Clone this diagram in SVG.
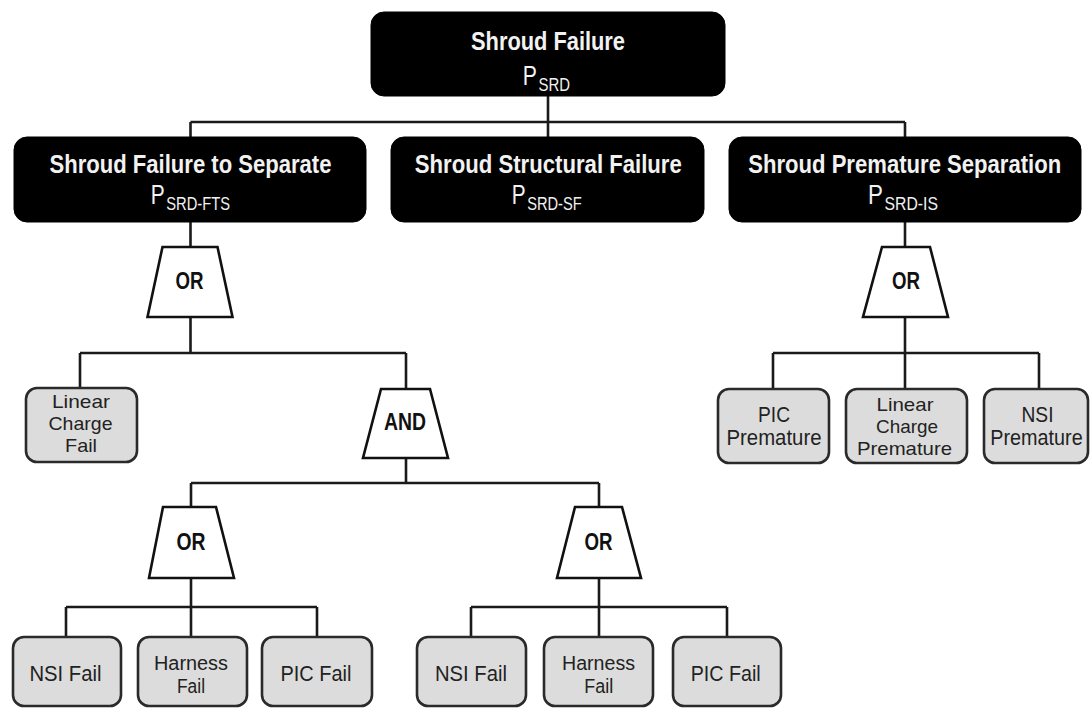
<svg xmlns="http://www.w3.org/2000/svg" width="1090" height="709" viewBox="0 0 1090 709">
<style>
.ev{fill:#000;stroke:#000;stroke-width:1}
.leaf{fill:#dcdcdc;stroke:#2a2a2a;stroke-width:2.6}
.gate{fill:#fff;stroke:#111;stroke-width:2.6;stroke-linejoin:miter}
.con{fill:none;stroke:#1a1a1a;stroke-width:2.6}
.t{font-family:"Liberation Sans Narrow","Liberation Sans",Arial,sans-serif;fill:#f2f2f2}
.tb{font-weight:bold;font-size:26px;text-anchor:middle}
.tp{font-size:27px}
.ts{font-size:19px}
.g{font-family:"Liberation Sans Narrow","Liberation Sans",Arial,sans-serif;font-weight:bold;font-size:23px;text-anchor:middle;fill:#111}
.l{font-family:"Liberation Sans Narrow","Liberation Sans",Arial,sans-serif;font-size:22px;text-anchor:middle;fill:#222}
.l3{font-size:19px}
.l2{font-size:20px}
</style>
<rect width="1090" height="709" fill="#fff"/>
<g id="connectors">
<path class="con" d="M548,96V137M190.5,122H905M190.5,122V137M905,122V137"/>
<path class="con" d="M190.5,222V247M190.5,317V353M80,353H406M80,353V388M406,353V389"/>
<path class="con" d="M406,458V483M191,483H599M191,483V507M599,483V507"/>
<path class="con" d="M191,578V607M66,607H317M66,607V637M191,607V637M317,607V637"/>
<path class="con" d="M599,578V607M471,607H727M471,607V637M599,607V637M727,607V637"/>
<path class="con" d="M905,222V247M905,317V353M773,353H1039M773,353V389M905,353V389M1039,353V389"/>
</g>
<g id="n-top">
<rect class="ev" x="371" y="12" width="354" height="84" rx="13"/>
<text class="t tb" x="548" y="50" font-size="27" textLength="154" lengthAdjust="spacingAndGlyphs">Shroud Failure</text>
<text class="t" x="522.7" y="85" textLength="47.3" lengthAdjust="spacingAndGlyphs"><tspan class="tp">P</tspan><tspan class="ts" font-size="20" dx="2" dy="6">SRD</tspan></text>
</g>
<g id="n-fts">
<rect class="ev" x="14" y="137" width="352" height="85" rx="13"/>
<text class="t tb" x="190.5" y="173" textLength="282" lengthAdjust="spacingAndGlyphs">Shroud Failure to Separate</text>
<text class="t" x="150.7" y="204" textLength="79.3" lengthAdjust="spacingAndGlyphs"><tspan class="tp">P</tspan><tspan class="ts" dx="2" dy="6">SRD-FTS</tspan></text>
</g>
<g id="n-sf">
<rect class="ev" x="391" y="137" width="313" height="85" rx="13"/>
<text class="t tb" x="548.3" y="173" textLength="267" lengthAdjust="spacingAndGlyphs">Shroud Structural Failure</text>
<text class="t" x="511.7" y="204" textLength="70" lengthAdjust="spacingAndGlyphs"><tspan class="tp">P</tspan><tspan class="ts" dx="2" dy="6">SRD-SF</tspan></text>
</g>
<g id="n-is">
<rect class="ev" x="729" y="137" width="352" height="85" rx="13"/>
<text class="t tb" transform="translate(904.7 173) scale(0.86 1)" x="0" y="0" textLength="364" lengthAdjust="spacingAndGlyphs">Shroud Premature Separation</text>
<text class="t" x="868" y="204" textLength="70" lengthAdjust="spacingAndGlyphs"><tspan class="tp">P</tspan><tspan class="ts" dx="2" dy="6">SRD-IS</tspan></text>
</g>
<g id="g-or1">
<polygon class="gate" points="162.5,247 217.5,247 232.5,317 147.5,317"/>
<text class="g" x="189.5" y="289" textLength="28" lengthAdjust="spacingAndGlyphs">OR</text>
</g>
<g id="g-and">
<polygon class="gate" points="381,389 430,389 448,458 363,458"/>
<text class="g" x="405" y="430" textLength="42" lengthAdjust="spacingAndGlyphs">AND</text>
</g>
<g id="g-or2">
<polygon class="gate" points="163,507 216,507 234,578 149,578"/>
<text class="g" x="191" y="550" textLength="29" lengthAdjust="spacingAndGlyphs">OR</text>
</g>
<g id="g-or3">
<polygon class="gate" points="575,507 622,507 641,578 557,578"/>
<text class="g" x="598.5" y="550" textLength="28" lengthAdjust="spacingAndGlyphs">OR</text>
</g>
<g id="g-or4">
<polygon class="gate" points="882,247 930,247 948,317 863,317"/>
<text class="g" x="906" y="289" textLength="28" lengthAdjust="spacingAndGlyphs">OR</text>
</g>
<g id="l-lcf">
<rect class="leaf" x="26" y="388" width="111" height="74" rx="11"/>
<text class="l l3" x="81" y="408" textLength="58" lengthAdjust="spacingAndGlyphs">Linear</text>
<text class="l l3" x="80.5" y="430" textLength="64" lengthAdjust="spacingAndGlyphs">Charge</text>
<text class="l l3" x="81" y="452" textLength="32" lengthAdjust="spacingAndGlyphs">Fail</text>
</g>
<g id="l-picp">
<rect class="leaf" x="718" y="389" width="111" height="74" rx="11"/>
<text class="l" x="774" y="422" textLength="32" lengthAdjust="spacingAndGlyphs">PIC</text>
<text class="l" x="774" y="445" textLength="95" lengthAdjust="spacingAndGlyphs">Premature</text>
</g>
<g id="l-lcp">
<rect class="leaf" x="846" y="389" width="121" height="74" rx="11"/>
<text class="l l3" x="905" y="411" textLength="57" lengthAdjust="spacingAndGlyphs">Linear</text>
<text class="l l3" x="907" y="432.5" textLength="62" lengthAdjust="spacingAndGlyphs">Charge</text>
<text class="l l3" x="904.5" y="455" textLength="95" lengthAdjust="spacingAndGlyphs">Premature</text>
</g>
<g id="l-nsip">
<rect class="leaf" x="984" y="389" width="104" height="74" rx="11"/>
<text class="l" x="1037.5" y="422" textLength="32" lengthAdjust="spacingAndGlyphs">NSI</text>
<text class="l" transform="translate(1036.5 445) scale(0.9 1)" x="0" y="0">Premature</text>
</g>
<g id="l-nsi1">
<rect class="leaf" x="13" y="637" width="108" height="69" rx="11"/>
<text class="l" x="65.5" y="681" textLength="72" lengthAdjust="spacingAndGlyphs">NSI Fail</text>
</g>
<g id="l-har1">
<rect class="leaf" x="138" y="637" width="109" height="69" rx="11"/>
<text class="l l2" x="191" y="669.5" textLength="74" lengthAdjust="spacingAndGlyphs">Harness</text>
<text class="l l2" x="191" y="692.5" textLength="28" lengthAdjust="spacingAndGlyphs">Fail</text>
</g>
<g id="l-pic1">
<rect class="leaf" x="262" y="637" width="110" height="69" rx="11"/>
<text class="l" x="316" y="681" textLength="71" lengthAdjust="spacingAndGlyphs">PIC Fail</text>
</g>
<g id="l-nsi2">
<rect class="leaf" x="417" y="637" width="109" height="69" rx="11"/>
<text class="l" x="471" y="681" textLength="72" lengthAdjust="spacingAndGlyphs">NSI Fail</text>
</g>
<g id="l-har2">
<rect class="leaf" x="544" y="637" width="109" height="69" rx="11"/>
<text class="l l2" x="598.5" y="669.5" textLength="73" lengthAdjust="spacingAndGlyphs">Harness</text>
<text class="l l2" x="598.7" y="692.5" textLength="29" lengthAdjust="spacingAndGlyphs">Fail</text>
</g>
<g id="l-pic2">
<rect class="leaf" x="673" y="637" width="108" height="69" rx="11"/>
<text class="l" x="725.7" y="681" textLength="70" lengthAdjust="spacingAndGlyphs">PIC Fail</text>
</g>
</svg>
